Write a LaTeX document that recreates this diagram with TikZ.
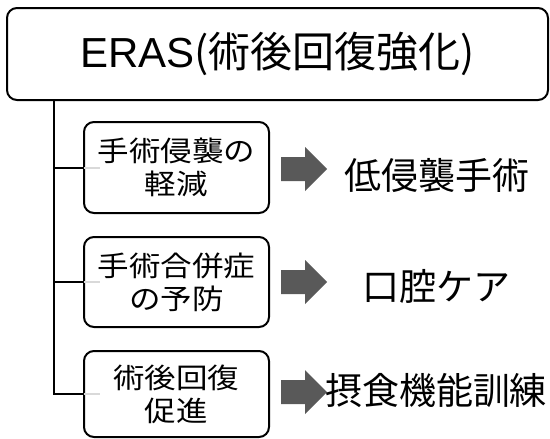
\documentclass[tikz,border=0pt]{standalone}
\usepackage{fontspec}
\setmainfont{Noto Sans CJK JP}
\newfontfamily\latinfont{Liberation Sans}
\newfontfamily\boxfont[FakeStretch=1.125]{Noto Sans CJK JP}
\definecolor{arrowgray}{HTML}{595959}
\definecolor{stubgray}{HTML}{D9D9D9}
\tikzset{
  titlebox/.style={draw, line width=2pt, rounded corners=10pt, minimum width=541pt, minimum height=92pt, inner sep=0pt,
    font=\fontsize{42}{46}\selectfont},
  subbox/.style={draw, line width=2pt, rounded corners=10pt, minimum width=185pt, inner sep=0pt, align=center,
    font=\boxfont\fontsize{28}{33}\selectfont},
  resulttext/.style={inner sep=0pt, font=\fontsize{37}{40}\selectfont},
  conn/.style={line width=2pt},
  stub/.style={line width=2pt, stubgray},
  blockarrow/.style={fill=arrowgray}
}
\begin{document}
\begin{tikzpicture}[x=1pt,y=-1pt]
\useasboundingbox (0,0) rectangle (550,439);
\node[titlebox] (title) at (277.5,54) {{\latinfont ERAS}(術後回復強化)};
\node[subbox, minimum height=91pt] (b1) at (176.5,167.5) {手術侵襲の\\軽減};
\node[subbox, minimum height=90pt] (b2) at (176.5,282) {手術合併症\\の予防};
\node[subbox, minimum height=86pt] (b3) at (176.5,394) {術後回復\\促進};
\coordinate (trunk) at (54,0);
\draw[conn] (title.south -| trunk) |- (b3.west);
\draw[conn] (trunk |- b1.west) -- (b1.west);
\draw[conn] (trunk |- b2.west) -- (b2.west);
\draw[stub] (b1.west) ++(1,0) -- ++(16,0);
\draw[stub] (b2.west) ++(1,0) -- ++(16,0);
\draw[stub] (b3.west) ++(1,0) -- ++(16,0);
\coordinate (a1) at (281,169);
\coordinate (a2) at (281,282);
\coordinate (a3) at (281,392);
\foreach \a in {a1,a2,a3}{
  \fill[blockarrow] (\a) ++(0,-12) -- ++(24,0) -- ++(0,-10) -- ++(22,22) -- ++(-22,22) -- ++(0,-10) -- ++(-24,0) -- cycle;
}
\node[resulttext] (r1) at (436.5,176) {低侵襲手術};
\node[resulttext] (r2) at (436,286) {口腔ケア};
\node[resulttext] (r3) at (436,391) {摂食機能訓練};
\end{tikzpicture}
\end{document}
